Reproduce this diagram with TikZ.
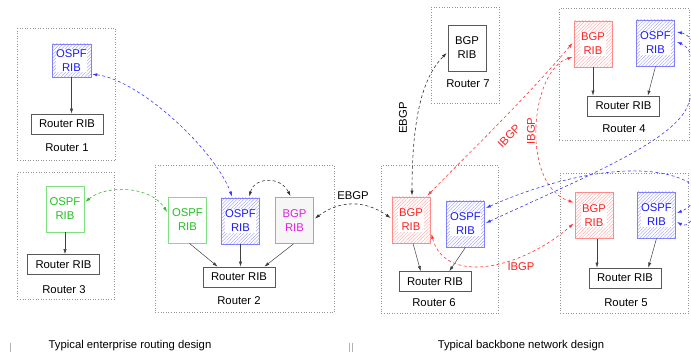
\documentclass[tikz,border=0pt]{standalone}
\usepackage{fontspec}
\setmainfont{Liberation Sans}
\usetikzlibrary{arrows.meta,patterns.meta,calc}
\definecolor{hblue}{HTML}{8080FF}
\definecolor{tblue}{HTML}{1A1AFF}
\definecolor{hred}{HTML}{FF8A8A}
\definecolor{tred}{HTML}{FF2020}
\definecolor{hgreen}{HTML}{80E080}
\definecolor{tgreen}{HTML}{22C022}
\definecolor{hmag}{HTML}{E080E0}
\definecolor{tmag}{HTML}{E020E0}
\definecolor{lblue}{HTML}{3838FF}
\definecolor{lred}{HTML}{FF3838}
\definecolor{lgreen}{HTML}{30B830}
\begin{document}
\begin{tikzpicture}[x=1pt,y=-1pt,
  every node/.style={font=\fontsize{11.3}{14}\selectfont},
  router/.style={draw=gray!85, dash pattern=on 0.8pt off 1.8pt, line width=0.7pt, inner sep=0pt, anchor=north west},
  rib/.style={minimum width=38pt, minimum height=46pt, inner sep=0pt, line width=0.8pt},
  hatch/.style={rib, draw=#1, pattern={Lines[angle=45,distance=2.4pt,line width=0.35pt]}, pattern color=#1!85},
  plainrib/.style={rib, draw=#1, align=center},
  ribt/.style={fill=white, inner sep=0.6pt, align=center},
  rrib/.style={draw=black!65, line width=0.7pt, minimum width=72pt, minimum height=20pt, inner sep=0pt},
  sarrow/.style={-{Latex[length=5pt,width=3.2pt]}, line width=0.5pt, draw=black!75},
  darrow/.style={{Latex[length=5pt,width=3.2pt]}-{Latex[length=5pt,width=3.2pt]}, dash pattern=on 3pt off 2.5pt, line width=0.6pt},
]
\useasboundingbox (0,0) rectangle (691,355);
\clip (0,0) rectangle (691,355);

% ---------- Router boxes (dotted) ----------
\node[router, minimum width=98pt, minimum height=132pt] (R1) at (17,28) {};
\node[router, minimum width=97pt, minimum height=127pt] (R3) at (17,172) {};
\node[router, minimum width=179pt, minimum height=147pt] (R2) at (155,165) {};
\node[router, minimum width=68pt, minimum height=96pt] (R7) at (431,7) {};
\node[router, minimum width=130pt, minimum height=132pt] (R4) at (559,8) {};
\node[router, minimum width=117pt, minimum height=148pt] (R6) at (381,165) {};
\node[router, minimum width=128pt, minimum height=140pt] (R5) at (560,173) {};

% ---------- Router 1 ----------
\node[hatch=hblue, minimum width=39pt, minimum height=33pt] (o1) at (71.5,60.5) {};
\node[ribt, text=tblue] at (o1) {OSPF\\RIB};
\node[rrib] (r1) at (67,124) {Router RIB};
\node (l1) at (67,148) {Router 1};
\draw[sarrow] (o1.south) -- (o1.south |- r1.north);

% ---------- Router 3 ----------
\node[plainrib=hgreen, text=tgreen] (o3) at (65,209) {OSPF\\RIB};
\node[rrib] (r3) at (63.5,264.5) {Router RIB};
\node (l3) at (64,290) {Router 3};
\draw[sarrow] (o3.south) -- (o3.south |- r3.north);

% ---------- Router 2 ----------
\node[plainrib=hgreen, text=tgreen] (g2) at (187.5,220) {OSPF\\RIB};
\node[hatch=hblue] (o2) at (240.5,221) {};
\node[ribt, text=tblue] at (o2) {OSPF\\RIB};
\node[plainrib=hmag, fill=gray!7, text=tmag] (b2) at (294.5,220.5) {BGP\\RIB};
\node[rrib] (r2) at (239,277) {Router RIB};
\node (l2) at (239,301) {Router 2};
\draw[sarrow] ($(g2.south)+(2,0)$) -- ($(r2.north west)+(15,0)$);
\draw[sarrow] (o2.south) -- (o2.south |- r2.north);
\draw[sarrow] ($(b2.south)+(-1,0)$) -- ($(r2.north east)+(-11,0)$);

% ---------- Router 7 ----------
\node[plainrib=black!65, text=black] (b7) at (467,48) {BGP\\RIB};
\node (l7) at (468,84) {Router 7};

% ---------- Router 4 ----------
\node[hatch=hred] (b4) at (593,44) {};
\node[ribt, text=tred] at (b4) {BGP\\RIB};
\node[hatch=hblue] (o4) at (655.5,43) {};
\node[ribt, text=tblue] at (o4) {OSPF\\RIB};
\node[rrib] (r4) at (623.5,106) {Router RIB};
\node (l4) at (624,129) {Router 4};
\draw[sarrow] (b4.south) -- (b4.south |- r4.north);
\draw[sarrow] (o4.south) -- ($(r4.north east)+(-12,0)$);

% ---------- Router 6 ----------
\node[hatch=hred] (b6) at (411,220) {};
\node[ribt, text=tred] at (b6) {BGP\\RIB};
\node[hatch=hblue] (o6) at (465.5,224) {};
\node[ribt, text=tblue] at (o6) {OSPF\\RIB};
\node[rrib] (r6) at (435,281.5) {Router RIB};
\node (l6) at (434,303) {Router 6};
\draw[sarrow] ($(b6.south)+(2,0)$) -- ($(r6.north west)+(22,0)$);
\draw[sarrow] (o6.south) -- ($(r6.north east)+(-22,0)$);

% ---------- Router 5 ----------
\node[hatch=hred] (b5) at (594,215.5) {};
\node[ribt, text=tred] at (b5) {BGP\\RIB};
\node[hatch=hblue] (o5) at (656.5,215) {};
\node[ribt, text=tblue] at (o5) {OSPF\\RIB};
\node[rrib] (r5) at (625,278) {Router RIB};
\node (l5) at (626,303) {Router 5};
\draw[sarrow] ($(b5.south)+(3,0)$) -- ($(b5.south |- r5.north)+(3,0)$);
\draw[sarrow] (o5.south) -- ($(r5.north east)+(-13,0)$);

% ---------- Dashed sessions ----------
% OSPF enterprise
\draw[darrow, lblue] ($(o1.south east)+(1,-3)$) .. controls (140,80) and (215,150) .. ($(o2.north west)+(11,-1)$);
\draw[darrow, lgreen] ($(o3.east)+(1,-7)$) .. controls (105,185) and (150,185) .. ($(g2.west)+(-1,-8)$);
\draw[darrow, black!80] ($(o2.north)+(9,-1)$) .. controls (253,178) and (280,175) .. ($(b2.north)+(-4,-1)$);
% EBGP
\draw[darrow, black!80] ($(b2.east)+(1,-2)$) .. controls (340,200) and (365,200) .. ($(b6.west)+(-1,-2)$);
\node (e1) at (353,196) {EBGP};
\draw[darrow, black!80] ($(b6.north)+(1,-1)$) .. controls (412,110) and (425,75) .. ($(b7.west)+(-1,5)$);
\node[rotate=90] (e2) at (403,118) {EBGP};
% IBGP
\draw[darrow, lred] ($(b6.north east)+(-3,-1)$) .. controls (472,150) and (526,98) .. ($(b4.west)+(-1,-1)$);
\node[rotate=46, text=tred] (i1) at (509,136) {IBGP};
\draw[darrow, lred] ($(b4.west)+(-1,13)$) .. controls (530,70) and (520,185) .. ($(b5.west)+(-1,-13)$);
\node[rotate=90, text=tred] (i2) at (531,131) {IBGP};
\draw[darrow, lred] ($(b6.east)+(1,14)$) .. controls (445,285) and (520,270) .. ($(b5.west)+(-1,8)$);
\node[text=tred] (i3) at (521,267) {IBGP};
% OSPF backbone
\draw[darrow, lblue] ($(o6.east)+(1,-16)$) .. controls (560,175) and (640,160) .. (684,180) .. controls (700,187) and (697,205) .. ($(o5.east)+(1,-2)$);
\draw[darrow, lblue] ($(o6.east)+(1,-1)$) .. controls (590,175) and (675,140) .. (688,105) .. controls (696,84) and (697,50) .. ($(o4.east)+(2,-1)$);
\draw[darrow, lblue] ($(o4.east)+(2,-11)$) .. controls (720,40) and (710,240) .. ($(o5.east)+(1,7)$);

% ---------- Captions ----------
\node (c1) at (130,346) {Typical enterprise routing design};
\node (c2) at (521,346) {Typical backbone network design};
\draw[gray!60, line width=0.4pt] (10,343) -- (10,352) (349,343) -- (349,352) (352,343) -- (352,352);
\end{tikzpicture}
\end{document}
